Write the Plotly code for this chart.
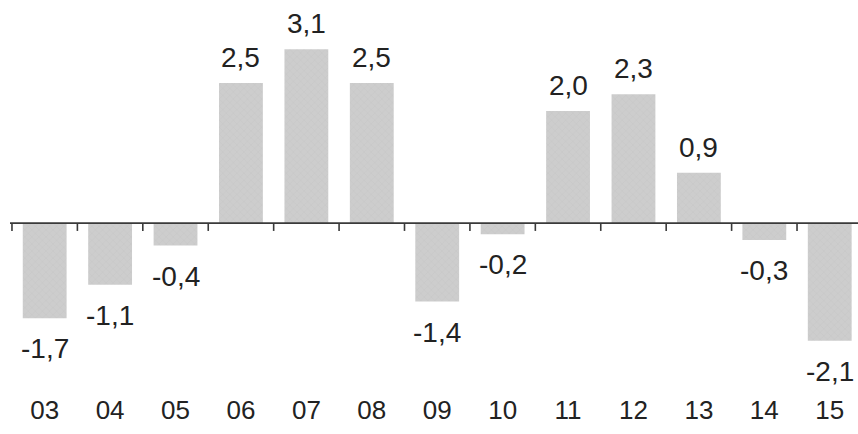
import plotly.graph_objects as go

# Annual values by year (two-digit labels)
years = ["03", "04", "05", "06", "07", "08", "09", "10", "11", "12", "13", "14", "15"]
values = [-1.7, -1.1, -0.4, 2.5, 3.1, 2.5, -1.4, -0.2, 2.0, 2.3, 0.9, -0.3, -2.1]

W, H = 858, 434
FONT = "Liberation Sans, Arial, Helvetica, sans-serif"
TEXT = "#222222"
BAR = "#cdcdcd"
AXIS = "#3a3a3a"

idx = list(range(len(years)))

fig = go.Figure()
fig.add_trace(go.Bar(
    x=idx,
    y=values,
    marker=dict(
        color=BAR,
        line=dict(width=0),
        pattern=dict(shape="x", size=5, solidity=0.15, fgcolor="#b8b8b8", bgcolor=BAR),
    ),
    hoverinfo="skip",
))

# value labels above positive bars, below negative bars
for i, v in zip(idx, values):
    label = f"{v:.1f}".replace(".", ",")
    if v >= 0:
        fig.add_annotation(x=i, y=v, text=label, showarrow=False,
                           yanchor="bottom", yshift=8,
                           font=dict(family=FONT, size=28, color=TEXT))
    else:
        fig.add_annotation(x=i, y=v, text=label, showarrow=False,
                           yanchor="top", yshift=-13,
                           font=dict(family=FONT, size=28, color=TEXT))

# baseline at zero with small ticks between categories
shapes = [dict(type="line", xref="x", yref="y", x0=-0.53, x1=len(years), y0=0, y1=0,
               line=dict(color=AXIS, width=1.6), layer="above")]
for b in range(len(years)):
    shapes.append(dict(type="line", xref="x", yref="y", x0=b - 0.5, x1=b - 0.5,
                       y0=0, y1=-0.14, line=dict(color=AXIS, width=1.6), layer="above"))

# heading, mostly above the visible page
fig.add_annotation(xref="paper", yref="paper", x=0.508, y=1, yanchor="bottom", yshift=-3,
                   text="(em %)", showarrow=False,
                   font=dict(family=FONT, size=26, color=TEXT))

fig.update_layout(
    width=W, height=H,
    margin=dict(l=0, r=0, t=0, b=45),
    paper_bgcolor="white",
    plot_bgcolor="white",
    showlegend=False,
    bargap=0.33,
    shapes=shapes,
    xaxis=dict(
        tickmode="array", tickvals=idx, ticktext=years,
        range=[-0.683, 12.432],
        showline=False, showgrid=False, zeroline=False, ticks="",
        tickfont=dict(family=FONT, size=26, color=TEXT),
        ticklabelstandoff=3,
    ),
    yaxis=dict(
        range=[-2.96, 3.98],
        visible=False, showgrid=False, zeroline=False,
    ),
)

fig.write_html("out.html")
